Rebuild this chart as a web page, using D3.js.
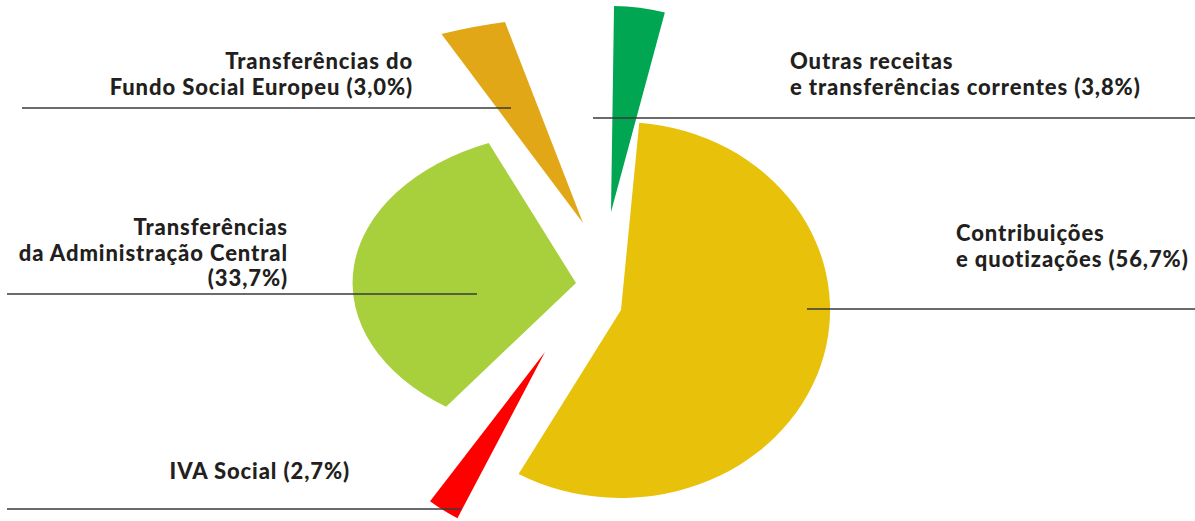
<!DOCTYPE html>
<html>
<head>
<meta charset="utf-8">
<script src="https://cdn.jsdelivr.net/npm/d3@7"></script>
<style>
  html, body { margin: 0; padding: 0; background: #fff; }
  svg { display: block; }
  .label { font-family: Lato, "Noto Sans", sans-serif; font-weight: 900; fill: #231f20; letter-spacing: 0.9px; }
</style>
</head>
<body>
<div id="chart"></div>
<script>
// Data
const categories = [
  "Contribuições e quotizações",
  "IVA Social",
  "Transferências da Administração Central",
  "Transferências do Fundo Social Europeu",
  "Outras receitas e transferências correntes"
];
const shares = [56.7, 2.7, 33.7, 3.0, 3.8];
const labelLines = [
  ["Contribuições", "e quotizações"],
  ["IVA Social"],
  ["Transferências", "da Administração Central", ""],
  ["Transferências do", "Fundo Social Europeu"],
  ["Outras receitas", "e transferências correntes"]
];
const colors = ["#e8c10b", "#ff0000", "#a8cf3c", "#e2a716", "#00a651"];

// Layout (explode offset, rotation, radius and stretch of each slice)
const width = 1195, height = 521;
const cx = 621, cy = 305;
const slicePos = [
  { dx: 0,   dy: 5,   rot: -1,   r: 188, sx: 1.112, sy: 1 },
  { dx: -76, dy: 47,  rot: -3,   r: 187, sx: 1.02,  sy: 1 },
  { dx: -45, dy: -22, rot: -4.5, r: 152, sx: 1.47,  sy: 1 },
  { dx: -38, dy: -82, rot: -5,   r: 206, sx: 1.723, sy: 1 },
  { dx: -10, dy: -93, rot: 8.5,  r: 206, sx: 1.044, sy: 1 }
];
const labelPos = [
  { x: 956, y: 241, anchor: "start", lx1: 807, lx2: 1195, ly: 309 },
  { x: 350, y: 479, anchor: "end",   lx1: 7,   lx2: 461,  ly: 509 },
  { x: 288, y: 235, anchor: "end",   lx1: 7,   lx2: 477,  ly: 294 },
  { x: 413, y: 69,  anchor: "end",   lx1: 22,  lx2: 511,  ly: 108 },
  { x: 790, y: 69,  anchor: "start", lx1: 593, lx2: 1195, ly: 118 }
];
const lineGap = 25.5;
const fmt = v => "(" + v.toFixed(1).replace(".", ",") + "%)";

const svg = d3.select("#chart").append("svg")
  .attr("width", width)
  .attr("height", height);

const pie = d3.pie().sort(null).value(d => d)
  .startAngle(6 * Math.PI / 180)
  .endAngle(366 * Math.PI / 180);
const arcs = pie(shares);
const toRad = Math.PI / 180;

// Slices
svg.append("g")
  .selectAll("path")
  .data(arcs)
  .join("path")
  .attr("transform", (d, i) => {
    const p = slicePos[i];
    return `translate(${cx + p.dx},${cy + p.dy}) scale(${p.sx},${p.sy})`;
  })
  .attr("d", (d, i) => {
    const p = slicePos[i];
    return d3.arc()({
      innerRadius: 0,
      outerRadius: p.r,
      startAngle: d.startAngle + p.rot * toRad,
      endAngle: d.endAngle + p.rot * toRad
    });
  })
  .attr("fill", (d, i) => colors[i]);

// Leader lines
svg.append("g")
  .selectAll("line")
  .data(labelPos)
  .join("line")
  .attr("x1", d => d.lx1)
  .attr("x2", d => d.lx2)
  .attr("y1", d => d.ly)
  .attr("y2", d => d.ly)
  .attr("stroke", "#3a3a3a")
  .attr("stroke-width", 1.6);

// Labels
categories.forEach((c, i) => {
  const p = labelPos[i];
  const lines = labelLines[i].slice();
  const last = lines.length - 1;
  lines[last] = (lines[last] ? lines[last] + " " : "") + fmt(shares[i]);
  const t = svg.append("text")
    .attr("class", "label")
    .attr("text-anchor", p.anchor)
    .attr("font-size", 22);
  lines.forEach((s, j) => {
    t.append("tspan")
      .attr("x", p.x)
      .attr("y", p.y + j * lineGap)
      .text(s);
  });
});
</script>
</body>
</html>
